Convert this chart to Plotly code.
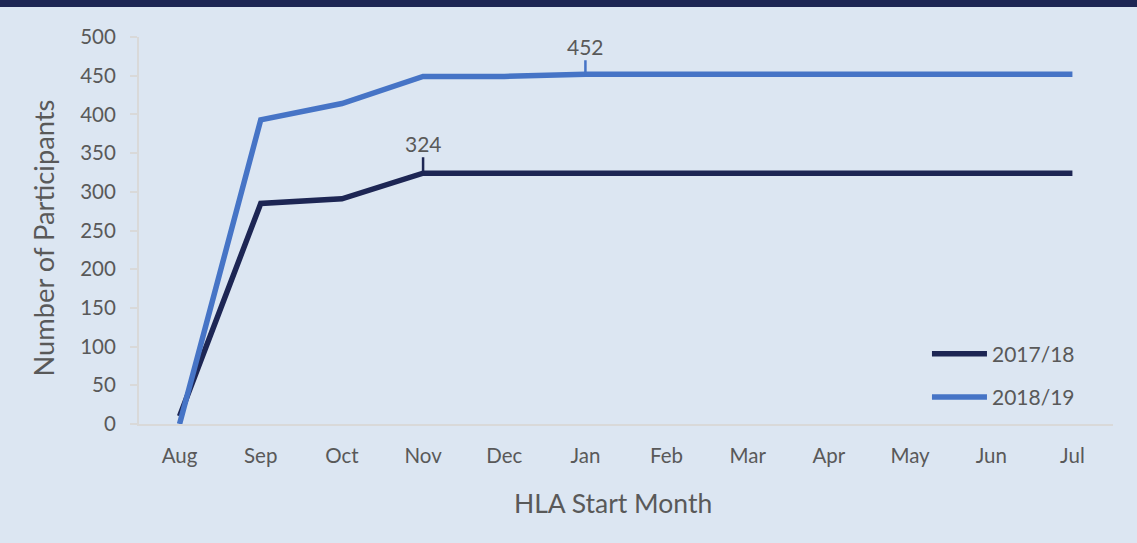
import plotly.graph_objects as go

months = ["Aug", "Sep", "Oct", "Nov", "Dec", "Jan", "Feb", "Mar", "Apr", "May", "Jun", "Jul"]
series_2017 = [10, 285, 291, 324, 324, 324, 324, 324, 324, 324, 324, 324]
series_2018 = [0, 393, 414, 449, 449, 452, 452, 452, 452, 452, 452, 452]
names = ["2017/18", "2018/19"]
colors = ["#1d2654", "#4674c6"]

FONT = "Lato, 'Open Sans', sans-serif"
GREY = "#595959"
BG = "#dce6f2"

fig = go.Figure()
for i, (name, vals) in enumerate(zip(names, [series_2017, series_2018])):
    fig.add_trace(go.Scatter(
        x=months, y=vals, name=name, mode="lines",
        line=dict(color=colors[i], width=5.5),
        legendgroup=name,
    ))

# data labels with leader lines
fig.add_annotation(x="Nov", y=series_2017[3], text=str(series_2017[3]),
                   showarrow=True, arrowhead=0, arrowwidth=2.5, arrowcolor=colors[0],
                   ax=0, ay=-30, font=dict(size=21, color=GREY, family=FONT))
fig.add_annotation(x="Jan", y=series_2018[5], text=str(series_2018[5]),
                   showarrow=True, arrowhead=0, arrowwidth=2.5, arrowcolor=colors[1],
                   ax=0, ay=-28, font=dict(size=21, color=GREY, family=FONT))

L, R, T, B = 139, 24, 37, 119
W, H = 1137, 543
pw = W - L - R
ph = H - T - B

# axis titles
fig.add_annotation(xref="paper", yref="paper", x=(43 - L) / pw, y=(H - B - 238.5) / ph,
                   text="Number of Participants", textangle=-90, showarrow=False,
                   xanchor="center", yanchor="middle",
                   font=dict(size=27.3, color=GREY, family=FONT))
fig.add_annotation(xref="paper", yref="paper", x=(612.5 - L) / pw, y=(H - B - 503) / ph,
                   text="HLA Start Month", showarrow=False,
                   xanchor="center", yanchor="middle",
                   font=dict(size=26.5, color=GREY, family=FONT))

fig.add_shape(type="rect", xref="paper", yref="paper",
              x0=-L / pw, x1=1 + R / pw,
              ysizemode="pixel", yanchor=1, y0=T - 7, y1=T + 5,
              fillcolor="#1d2654", line=dict(width=0), layer="above")

fig.update_layout(
    width=W, height=H,
    margin=dict(l=L, r=R, t=T, b=B),
    paper_bgcolor=BG, plot_bgcolor=BG,
    font=dict(family=FONT, color=GREY, size=20),
    showlegend=True,
    legend=dict(x=0.809, y=0.125, xanchor="left", yanchor="middle",
                bgcolor="rgba(0,0,0,0)", font=dict(size=21, color=GREY),
                tracegroupgap=13, traceorder="grouped", itemwidth=55),
    xaxis=dict(type="category", range=[-0.5, 11.5], showgrid=False,
               showline=True, linecolor="#d9d9d9", linewidth=2,
               ticks="", tickfont=dict(size=20.5, color=GREY), ticklabelstandoff=12,
               zeroline=False),
    yaxis=dict(range=[0, 500], dtick=50, showgrid=False, zeroline=False,
               showline=True, linecolor="#d9d9d9", linewidth=2,
               ticks="outside", ticklen=7, tickcolor="#d9d9d9", tickwidth=2,
               tickfont=dict(size=20.5, color=GREY), ticklabelstandoff=10),
)

fig.write_html("out.html", config={"displayModeBar": False},
               post_script="document.body.style.margin='0';document.body.style.overflow='hidden';")
